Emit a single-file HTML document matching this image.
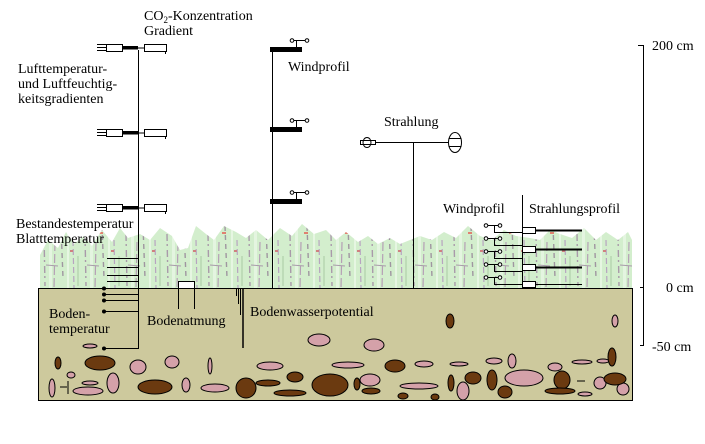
<!DOCTYPE html>
<html><head><meta charset="utf-8"><style>
html,body{margin:0;padding:0;background:#fff;}
svg{display:block;}
text{font-family:"Liberation Serif",serif;font-size:14px;fill:#000;}
</style></head><body>
<svg width="705" height="444" viewBox="0 0 705 444" xmlns="http://www.w3.org/2000/svg">
<defs>
<pattern id="veg" width="41" height="70" patternUnits="userSpaceOnUse" x="40" y="220">
<rect width="41" height="70" fill="#d3eecd"/>
<rect x="9" y="0" width="3" height="70" fill="#e4f5e0"/>
<rect x="27" y="0" width="2" height="70" fill="#e6f6e2"/>
<line x1="4" y1="14" x2="5" y2="66" stroke="#a99aaa" stroke-width="1.4" stroke-dasharray="7 3 2 4"/>
<line x1="15" y1="22" x2="14" y2="68" stroke="#b59fb5" stroke-width="1.2" stroke-dasharray="9 3"/>
<line x1="21" y1="6" x2="23" y2="58" stroke="#9f96a0" stroke-width="1.4" stroke-dasharray="5 4"/>
<line x1="33" y1="20" x2="34" y2="68" stroke="#b7a4c0" stroke-width="1.2" stroke-dasharray="6 3"/>
<line x1="38" y1="36" x2="38" y2="66" stroke="#a9c9a4" stroke-width="1"/>
<rect x="18" y="12" width="4" height="2" fill="#e08070"/>
<rect x="30" y="30" width="3" height="2" fill="#d08080"/>
<line x1="6" y1="45" x2="18" y2="46" stroke="#a99aaa" stroke-width="1"/>
</pattern>
</defs>

<polygon fill="url(#veg)" points="40,288 40,255 48,240 58,248 66,232 74,244 84,236 92,246 102,230 112,242 120,228 128,238 140,234 150,240 160,228 172,236 180,250 188,248 196,226 206,234 214,240 224,226 236,232 246,238 256,230 268,240 280,228 292,236 302,224 314,234 326,230 336,240 346,232 358,242 368,236 378,244 390,238 400,244 410,240 420,236 432,240 444,232 456,238 468,226 480,236 492,240 504,230 516,236 530,238 540,240 550,230 560,234 572,238 584,228 596,240 606,232 618,240 628,232 632,240 632,288"/>

<rect x="38.5" y="288.5" width="594" height="112" fill="#cdc99d" stroke="#000" stroke-width="1"/>

<g stroke="#000" stroke-width="1">
<g fill="#d4a1a9">
<ellipse cx="90" cy="383" rx="8" ry="2"/>
<ellipse cx="138" cy="367" rx="8" ry="7"/>
<ellipse cx="172" cy="362" rx="7" ry="6"/>
<ellipse cx="210" cy="366" rx="2" ry="8"/>
<ellipse cx="71" cy="375" rx="4" ry="3"/>
<ellipse cx="52" cy="388" rx="3" ry="9"/>
<ellipse cx="88" cy="391" rx="15" ry="4"/>
<ellipse cx="113" cy="383" rx="6" ry="10"/>
<ellipse cx="186" cy="385" rx="4" ry="7"/>
<ellipse cx="215" cy="388" rx="14" ry="4"/>
<ellipse cx="270" cy="366" rx="13" ry="4"/>
<ellipse cx="319" cy="340" rx="11" ry="6"/>
<ellipse cx="615" cy="321" rx="3" ry="6"/>
<ellipse cx="374" cy="345" rx="10" ry="6"/>
<ellipse cx="348" cy="365" rx="16" ry="3"/>
<ellipse cx="424" cy="364" rx="9" ry="3"/>
<ellipse cx="459" cy="364" rx="9" ry="2"/>
<ellipse cx="494" cy="361" rx="8" ry="3"/>
<ellipse cx="512" cy="361" rx="4" ry="7"/>
<ellipse cx="555" cy="367" rx="7" ry="4"/>
<ellipse cx="582" cy="362" rx="10" ry="2"/>
<ellipse cx="603" cy="361" rx="6" ry="2"/>
<ellipse cx="370" cy="380" rx="10" ry="6"/>
<ellipse cx="419" cy="386" rx="19" ry="3"/>
<ellipse cx="463" cy="391" rx="6" ry="9"/>
<ellipse cx="524" cy="378" rx="19" ry="8"/>
<ellipse cx="585" cy="394" rx="7" ry="2"/>
<ellipse cx="600" cy="383" rx="6" ry="6"/>
<ellipse cx="623" cy="389" rx="6" ry="6"/>
</g>
<g fill="#6b3a10">
<ellipse cx="58" cy="363" rx="3" ry="6"/>
<ellipse cx="100" cy="363" rx="15" ry="7"/>
<ellipse cx="155" cy="387" rx="17" ry="7"/>
<ellipse cx="246" cy="388" rx="10" ry="10"/>
<ellipse cx="268" cy="383" rx="12" ry="3"/>
<ellipse cx="290" cy="393" rx="16" ry="3"/>
<ellipse cx="295" cy="377" rx="8" ry="5"/>
<ellipse cx="330" cy="385" rx="18" ry="11"/>
<ellipse cx="450" cy="321" rx="4" ry="7"/>
<ellipse cx="395" cy="366" rx="10" ry="6"/>
<ellipse cx="612" cy="357" rx="4" ry="9"/>
<ellipse cx="357" cy="384" rx="3" ry="6"/>
<ellipse cx="371" cy="391" rx="9" ry="3"/>
<ellipse cx="451" cy="383" rx="3" ry="8"/>
<ellipse cx="473" cy="378" rx="8" ry="6"/>
<ellipse cx="492" cy="380" rx="5" ry="10"/>
<ellipse cx="505" cy="392" rx="7" ry="6"/>
<ellipse cx="562" cy="380" rx="8" ry="9"/>
<ellipse cx="560" cy="391" rx="15" ry="3"/>
<ellipse cx="615" cy="379" rx="11" ry="6"/>
<ellipse cx="403" cy="396" rx="5" ry="3"/>
<ellipse cx="435" cy="397" rx="4" ry="3"/>
</g>
</g>
<line x1="60" y1="387" x2="67" y2="387" stroke="#000"/>
<line x1="68" y1="381" x2="68" y2="394" stroke="#000"/>
<line x1="577" y1="381" x2="585" y2="381" stroke="#000"/>

<g stroke="#000" fill="none" stroke-width="1">
<line x1="138.5" y1="50" x2="138.5" y2="349"/>
<g id="s1">
<line x1="97" y1="44.5" x2="106" y2="44.5"/><line x1="97" y1="47.5" x2="106" y2="47.5"/><line x1="97" y1="50.5" x2="106" y2="50.5"/>
<rect x="106.5" y="44.5" width="16" height="7" fill="#fff"/>
<rect x="122" y="46" width="16" height="3.5" fill="#000" stroke="none"/>
<line x1="138" y1="48" x2="144" y2="48"/>
<rect x="144.5" y="44.5" width="22" height="7" fill="#fff"/>
<line x1="165.5" y1="51" x2="165.5" y2="54"/>
</g>
<use href="#s1" y="85"/>
<use href="#s1" y="160"/>
<line x1="107" y1="258.5" x2="138" y2="258.5"/>
<line x1="107" y1="267.5" x2="138" y2="267.5"/>
<line x1="107" y1="275.5" x2="138" y2="275.5"/>
<line x1="107" y1="281.5" x2="138" y2="281.5"/>
<line x1="104" y1="288.5" x2="138" y2="288.5"/>
<line x1="104" y1="294.5" x2="138" y2="294.5"/>
<line x1="104" y1="300.5" x2="138" y2="300.5"/>
<line x1="104" y1="311.5" x2="138" y2="311.5"/>
<line x1="104" y1="348.5" x2="138" y2="348.5"/>
</g>
<g fill="#000">
<circle cx="104" cy="288.5" r="2"/><circle cx="104" cy="294.5" r="2"/><circle cx="104" cy="300.5" r="2"/><circle cx="104" cy="311.5" r="2"/><circle cx="104" cy="348.5" r="2"/>
</g>
<ellipse cx="90" cy="346" rx="7" ry="2" fill="#d4a1a9" stroke="#000"/>

<rect x="178.5" y="281.5" width="16" height="7" fill="#fff" stroke="#000"/>
<line x1="178.5" y1="288" x2="178.5" y2="309" stroke="#000"/>
<line x1="194.5" y1="288" x2="194.5" y2="309" stroke="#000"/>

<g stroke="#000">
<line x1="236.5" y1="288" x2="236.5" y2="296"/>
<line x1="238.5" y1="288" x2="238.5" y2="304"/>
<line x1="240.5" y1="288" x2="240.5" y2="315"/>
<line x1="243" y1="288" x2="243" y2="348" stroke-width="1.5"/>
</g>

<g stroke="#000" fill="none">
<line x1="272.5" y1="48" x2="272.5" y2="288"/>
<g id="w1">
<rect x="270" y="47" width="32" height="5" fill="#000" stroke="none"/>
<line x1="296.5" y1="47" x2="296.5" y2="41"/>
<line x1="293" y1="40.5" x2="306" y2="40.5"/>
<circle cx="292" cy="40.5" r="1.8" fill="#fff"/>
<circle cx="307" cy="40.5" r="1.8" fill="#fff"/>
</g>
<use href="#w1" y="80"/>
<use href="#w1" y="152"/>
</g>

<g stroke="#000" fill="none">
<line x1="360" y1="142.5" x2="456" y2="142.5"/>
<line x1="413.5" y1="142" x2="413.5" y2="288"/>
<rect x="360.5" y="140.5" width="15" height="4" fill="#fff"/>
<ellipse cx="367" cy="142.5" rx="4" ry="5" fill="none"/>
<ellipse cx="455" cy="142.5" rx="6.5" ry="10" fill="#fff"/>
<line x1="448.5" y1="138.5" x2="461.5" y2="138.5"/>
<line x1="448.5" y1="146.5" x2="461.5" y2="146.5"/>
</g>

<g stroke="#000" fill="none">
<line x1="522.5" y1="195" x2="522.5" y2="288"/>
<g id="a1">
<line x1="486" y1="225.5" x2="500" y2="225.5"/>
<line x1="494.5" y1="225" x2="494.5" y2="233"/>
<line x1="494" y1="232.5" x2="522" y2="232.5"/>
<circle cx="486" cy="225.5" r="1.8" fill="#fff"/>
<circle cx="500" cy="225.5" r="1.8" fill="#fff"/>
</g>
<use href="#a1" y="13"/>
<use href="#a1" y="26"/>
<use href="#a1" y="39"/>
<use href="#a1" y="52"/>
<g id="r1">
<rect x="522.5" y="227.5" width="13" height="6" fill="#fff"/>
<line x1="535" y1="230.5" x2="582" y2="230.5" stroke-width="2"/>
</g>
<use href="#r1" y="19"/>
<use href="#r1" y="37"/>
<rect x="522.5" y="281.5" width="13" height="6" fill="#fff"/>
<line x1="535" y1="284.5" x2="582" y2="284.5"/>
</g>

<g stroke="#000">
<line x1="643.5" y1="45" x2="643.5" y2="346"/>
<line x1="638" y1="45.5" x2="643" y2="45.5"/>
<line x1="640" y1="287.5" x2="643" y2="287.5"/>
<line x1="640" y1="345.5" x2="643" y2="345.5"/>
</g>

<text x="144" y="20">CO<tspan font-size="9" dy="3">2</tspan><tspan dy="-3">-Konzentration</tspan></text>
<text x="144" y="35">Gradient</text>
<text x="18" y="73">Lufttemperatur-</text>
<text x="18" y="88">und Luftfeuchtig-</text>
<text x="18" y="103">keitsgradienten</text>
<text x="288" y="71">Windprofil</text>
<text x="384" y="126">Strahlung</text>
<text x="16" y="228">Bestandestemperatur</text>
<text x="16" y="243">Blatttemperatur</text>
<text x="49" y="318">Boden-</text>
<text x="49" y="333">temperatur</text>
<text x="147" y="325">Bodenatmung</text>
<text x="250" y="316">Bodenwasserpotential</text>
<text x="443" y="213">Windprofil</text>
<text x="529" y="213">Strahlungsprofil</text>
<text x="652" y="50">200 cm</text>
<text x="666" y="292">0 cm</text>
<text x="652" y="351">-50 cm</text>
</svg>
</body></html>
